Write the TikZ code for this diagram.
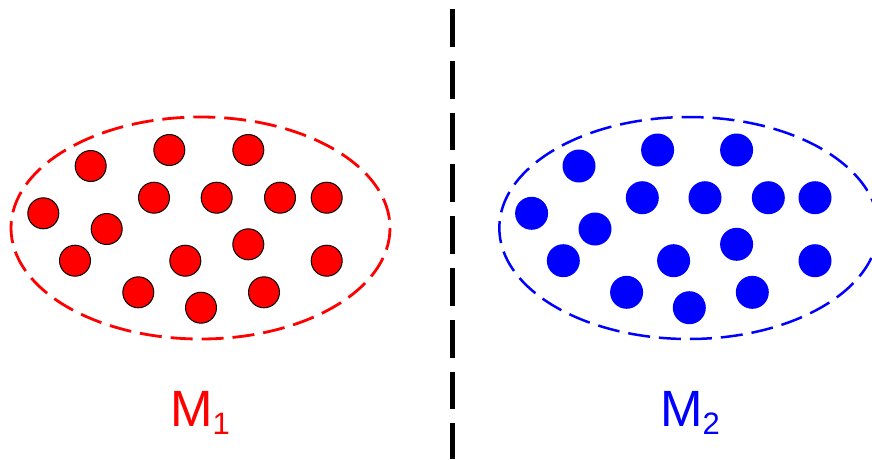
\documentclass[tikz,border=0pt]{standalone}
\usepackage{fontspec}
\newfontfamily\labelfont{Liberation Sans}
\usetikzlibrary{positioning}

\begin{document}
\begin{tikzpicture}[x=1pt, y=-1pt,
    reddot/.style={circle, draw=black, fill=red, line width=1pt,
                   minimum size=31pt, inner sep=0pt},
    bluedot/.style={circle, fill=blue, minimum size=33pt, inner sep=0pt},
    setline/.style={line width=2.8pt, dash pattern=on 22pt off 9pt},
    setlabel/.style={anchor=base, inner sep=0pt,
                     font=\labelfont\fontsize{51}{51}\selectfont}]
  \useasboundingbox (0,0) rectangle (872,459);
  % the two sets
  \draw[setline, red] (200.5,228) ellipse [x radius=189.5, y radius=111];
  \draw[setline, blue, line width=2.5pt] (688.8,228) ellipse [x radius=189.5, y radius=111];
  \foreach \x/\y [count=\i] in {90.7/166, 169.3/150, 248.3/150, 43.3/213.3,
      154/197.7, 216.7/197.7, 280/197.7, 326.7/197.7, 106.7/229,
      248.3/244.3, 75/260.7, 185.3/260.7, 326.7/260.7, 138.3/292.3,
      201/307.7, 264/292.3}{%
    \node[reddot] (r\i) at (\x,\y) {};
    \node[bluedot] (b\i) at (\x+488.3,\y) {};}
  % divider
  \coordinate (top) at (452.3,9);
  \coordinate (bottom) at (452.3,459);
  \draw[black, line width=5pt, dash pattern=on 37.8pt off 14pt] (top) -- (bottom);
  % labels
  \node[setlabel, text=red] (m1) at (200,426.7)
    {M\raisebox{-8pt}{\fontsize{31}{31}\selectfont 1}};
  \node[setlabel, text=blue] (m2) at (690,426.7)
    {M\raisebox{-8pt}{\fontsize{31}{31}\selectfont 2}};
\end{tikzpicture}
\end{document}
